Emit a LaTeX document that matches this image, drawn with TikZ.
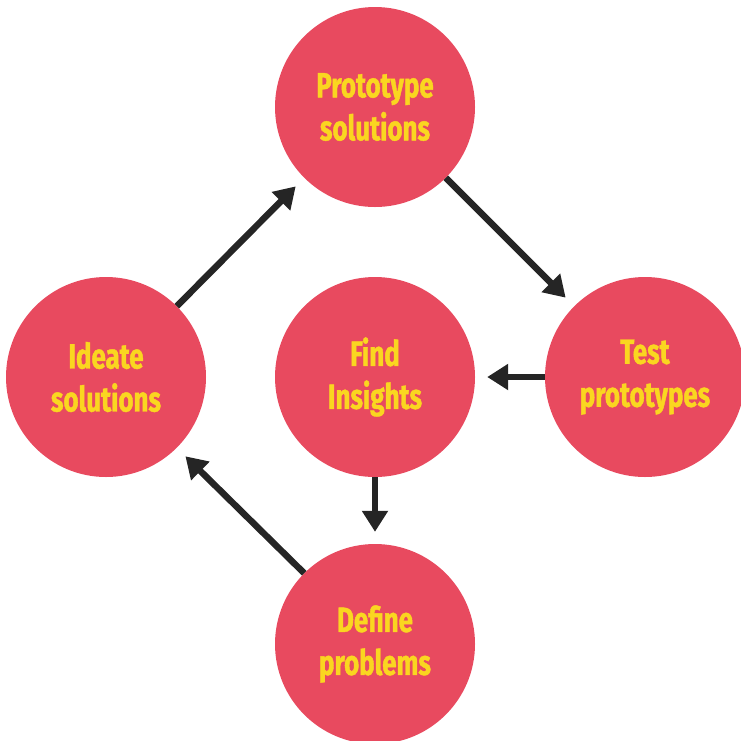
\documentclass[tikz,border=0pt]{standalone}
\usepackage{fontspec}
\newfontfamily\stagefont[FakeStretch=0.74,FakeBold=1.2]{Fira Sans}
\usetikzlibrary{arrows.meta}
\definecolor{stagered}{HTML}{E84A5F}
\definecolor{stageyellow}{HTML}{FAD620}
\definecolor{arrowgray}{HTML}{252525}

\begin{document}
\begin{tikzpicture}[x=1pt,y=-1pt,
	stage/.style={circle, fill=stagered, minimum size=200pt, inner sep=0pt,
		text=stageyellow, align=center,
		font=\stagefont\bfseries\fontsize{35}{43}\selectfont},
	flow/.style={line width=6.5pt, draw=arrowgray, shorten >=12pt,
		-{Triangle[width=25pt,length=21pt]}}]
\useasboundingbox (0,0) rectangle (741,740);

% the five stages
\node[stage] (proto) at (375,107) {Prototype\\solutions};
\node[stage] (ideate) at (106,377) {Ideate\\solutions};
\node[stage] (find) at (375,377) {Find\\Insights};
\node[stage] (test) at (645,377) {Test\\prototypes};
\node[stage] (define) at (375,644) {Define\\problems};

% arrows between them
\draw[flow] (ideate.45) -- (proto.225);
\draw[flow] (proto.-45) -- (test.135);
\draw[flow] (test.west) -- (find.east);
\draw[flow] (find.south) -- (define.north);
\draw[flow] (define.135) -- (ideate.-45);
\end{tikzpicture}
\end{document}
